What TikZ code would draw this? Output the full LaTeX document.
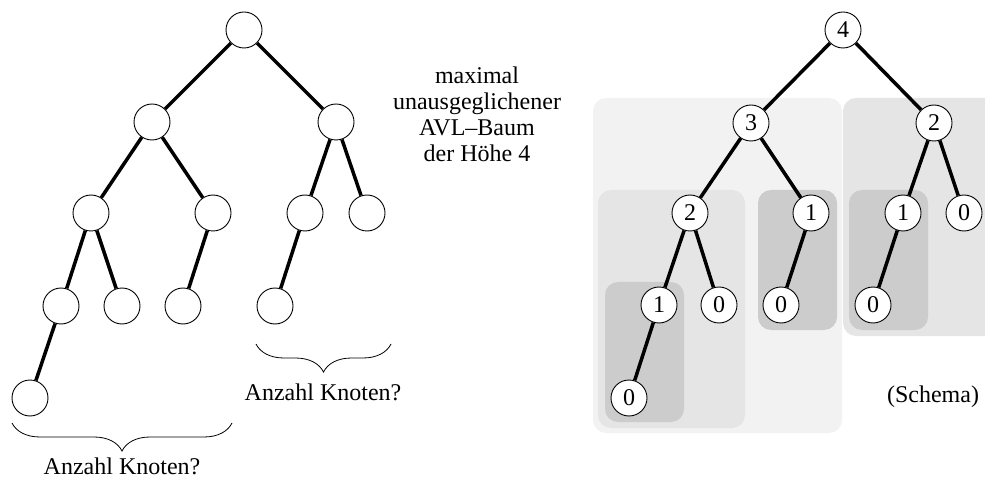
\documentclass[tikz,border=0pt]{standalone}
\usepackage{fontspec}
\setmainfont{Liberation Serif}
\usetikzlibrary{decorations.pathreplacing}
\begin{document}
\begin{tikzpicture}[x=1pt,y=-1pt,
  vert/.style={circle,draw,line width=0.9pt,fill=white,minimum size=36pt,inner sep=0pt,font=\fontsize{24}{26}\selectfont},
  edge/.style={line width=3.5pt},
  lbl/.style={font=\fontsize{24}{26}\selectfont,align=center,inner sep=0pt},
  shadeA/.style={fill=black!5,rounded corners=13pt},
  shadeB/.style={fill=black!10,rounded corners=13pt},
  shadeC/.style={fill=black!20,rounded corners=13pt},
  bracestyle/.style={decorate,decoration={brace,mirror,amplitude=28pt},line width=0.8pt}]
\useasboundingbox (0,0) rectangle (985,478);
% shaded regions
\path[shadeA] (593,98) rectangle (842,433);
\path[shadeB] (843,98) rectangle (998,336);
\path[shadeB] (598,190) rectangle (745,428);
\path[shadeC] (605,282) rectangle (684,422);
\path[shadeC] (758,190) rectangle (837,330);
\path[shadeC] (849,190) rectangle (928,330);
% left tree
\node[vert] (a) at (244,30) {};
\node[vert] (b) at (152,122) {};
\node[vert] (c) at (336,122) {};
\node[vert] (d) at (91,213) {};
\node[vert] (e) at (213,213) {};
\node[vert] (f) at (305,213) {};
\node[vert] (g) at (367,213) {};
\node[vert] (h) at (61,306) {};
\node[vert] (i) at (122,306) {};
\node[vert] (j) at (183,306) {};
\node[vert] (k) at (275,306) {};
\node[vert] (l) at (30,398) {};
\draw[edge] (a) -- (b);
\draw[edge] (a) -- (c);
\draw[edge] (b) -- (d);
\draw[edge] (b) -- (e);
\draw[edge] (c) -- (f);
\draw[edge] (c) -- (g);
\draw[edge] (d) -- (h);
\draw[edge] (d) -- (i);
\draw[edge] (e) -- (j);
\draw[edge] (f) -- (k);
\draw[edge] (h) -- (l);
% braces
\coordinate (b1s) at (12,423);
\coordinate (b1e) at (232,423);
\coordinate (b2s) at (256,344);
\coordinate (b2e) at (391,344);
\draw[bracestyle] (b1s) -- (b1e);
\draw[bracestyle] (b2s) -- (b2e);
\node[lbl] (t1) at (122,466) {Anzahl Knoten?};
\node[lbl] (t2) at (323,392) {Anzahl Knoten?};
\node[lbl] (t3) at (477,114) {maximal\\unausgeglichener\\AVL--Baum\\der Höhe 4};
% right tree
\node[vert] (r4) at (843,30) {4};
\node[vert] (r3) at (751,123) {3};
\node[vert] (r2b) at (934,123) {2};
\node[vert] (r2) at (690,213) {2};
\node[vert] (r1m) at (811,213) {1};
\node[vert] (r1r) at (903,213) {1};
\node[vert] (r0r) at (964,213) {0};
\node[vert] (r1l) at (659,305) {1};
\node[vert] (r0a) at (719,305) {0};
\node[vert] (r0b) at (781,305) {0};
\node[vert] (r0c) at (873,305) {0};
\node[vert] (r0d) at (629,398) {0};
\draw[edge] (r4) -- (r3);
\draw[edge] (r4) -- (r2b);
\draw[edge] (r3) -- (r2);
\draw[edge] (r3) -- (r1m);
\draw[edge] (r2b) -- (r1r);
\draw[edge] (r2b) -- (r0r);
\draw[edge] (r2) -- (r1l);
\draw[edge] (r2) -- (r0a);
\draw[edge] (r1m) -- (r0b);
\draw[edge] (r1r) -- (r0c);
\draw[edge] (r1l) -- (r0d);
\node[lbl] (schema) at (933,397) {(Schema)};
\end{tikzpicture}
\end{document}
